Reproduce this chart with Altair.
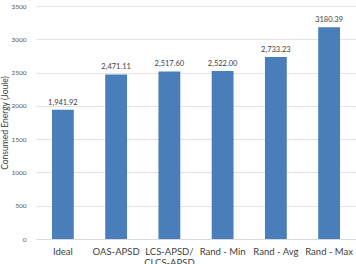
import altair as alt
import pandas as pd

categories = ["Ideal", "OAS-APSD", "LCS-APSD/|CLCS-APSD", "Rand - Min", "Rand - Avg", "Rand - Max"]
values = [1941.92, 2471.11, 2517.60, 2522.00, 2733.23, 3180.39]
value_labels = ["1,941.92", "2,471.11", "2,517.60", "2,522.00", "2,733.23", "3180.39"]
y_ticks = [0, 500, 1000, 1500, 2000, 2500, 3000, 3500]

df = pd.DataFrame({"cat": categories, "val": values, "lab": value_labels})

FONT = "Lato"

x = alt.X("cat:N", sort=categories, title=None,
          scale=alt.Scale(paddingInner=0.59, paddingOuter=0.3),
          axis=alt.Axis(labelAngle=0, labelFont=FONT, labelFontSize=9.5, labelColor="#404040",
                        labelPadding=7, ticks=False, domain=True, domainColor="#d9d9d9",
                        labelExpr="split(datum.label, '|')", labelLineHeight=11))
y = alt.Y("val:Q", title="Consumed Energy (Joule)",
          scale=alt.Scale(domain=[0, 3500], nice=False),
          axis=alt.Axis(values=y_ticks, format="d",
                        labelOverlap=False, labelBound=False,
                        labelFont=FONT, labelFontSize=6.5, labelColor="#595959",
                        ticks=False, domain=False, gridColor="#e3e3e3", labelPadding=10,
                        titleFont=FONT, titleFontSize=8.5, titleFontWeight="normal",
                        titleColor="#404040", titlePadding=1))

base = alt.Chart(df).encode(x=x, y=y)
bars = base.mark_bar(color="#4a7ebb")
text = base.mark_text(dy=-7, font=FONT, fontSize=7.5, color="#404040").encode(text="lab:N")

chart = (bars + text).properties(
    width=320, height=233,
    autosize=alt.AutoSizeParams(type="none"),
    padding={"left": 36, "top": 6, "right": 0, "bottom": 25},
).configure_view(stroke=None)

chart.save("out.html", embed_options={"renderer": "svg", "actions": False})
